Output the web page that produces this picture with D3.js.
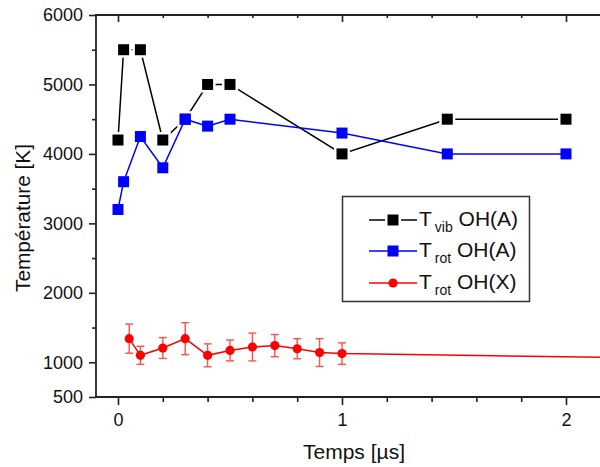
<!DOCTYPE html>
<html><head><meta charset="utf-8">
<script src="https://cdn.jsdelivr.net/npm/d3@7"></script>
<style>body{margin:0;background:#fff}svg{display:block}text{font-family:"Liberation Sans",Arial,sans-serif;fill:#111}</style>
</head><body>
<svg id="c" width="600" height="467"></svg>
<script>
// ---- data ----
const vibX   = [0, 0.025, 0.1, 0.2, 0.3, 0.4, 0.5, 1.0, 1.47, 2.0];
const vibY   = [4200, 5500, 5500, 4200, 4500, 5000, 5000, 4000, 4500, 4500];
const rotAX  = [0, 0.025, 0.1, 0.2, 0.3, 0.4, 0.5, 1.0, 1.47, 2.0];
const rotAY  = [3200, 3600, 4250, 3800, 4500, 4400, 4500, 4300, 4000, 4000];
const rotXX  = [0.05, 0.1, 0.2, 0.3, 0.4, 0.5, 0.6, 0.7, 0.8, 0.9, 1.0, 3.0];
const rotXY  = [1340, 1100, 1205, 1340, 1100, 1170, 1220, 1240, 1195, 1140, 1125, 1035];
const rotXE  = [210, 130, 150, 230, 165, 150, 200, 160, 145, 200, 155, 0];
const yMajor = [500, 1000, 2000, 3000, 4000, 5000, 6000];
const yMinor = [1500, 2500, 3500, 4500, 5500];
const xMajor = [0, 1, 2];
const xMinor = [0.2, 0.4, 0.6, 0.8, 1.2, 1.4, 1.6, 1.8, 2.2];
const legendLabels = [["T","vib"," OH(A)"],["T","rot"," OH(A)"],["T","rot"," OH(X)"]];

const svg = d3.select("#c");
const x = d3.scaleLinear().domain([-0.1, 2.3]).range([95.6, 633.2]);
const y = d3.scaleLinear().domain([500, 6000]).range([397, 15]);
const axisCol = "#222";

// axes
const gL = svg.append("g").attr("transform","translate(96,0)")
  .call(d3.axisLeft(y).tickValues(yMajor).tickSize(7).tickPadding(6).tickFormat(d3.format("d")));
const gLm = svg.append("g").attr("transform","translate(96,0)")
  .call(d3.axisLeft(y).tickValues(yMinor).tickSize(4).tickFormat(""));
const gB = svg.append("g").attr("transform","translate(0,397)")
  .call(d3.axisBottom(x).tickValues(xMajor).tickSize(8).tickPadding(8).tickFormat(d3.format("d")));
const gBm = svg.append("g").attr("transform","translate(0,397)")
  .call(d3.axisBottom(x).tickValues(xMinor).tickSize(5).tickFormat(""));
const gT = svg.append("g").attr("transform","translate(0,15)")
  .call(d3.axisTop(x).tickValues(xMajor).tickSize(-7).tickFormat(""));
const gTm = svg.append("g").attr("transform","translate(0,15)")
  .call(d3.axisTop(x).tickValues(xMinor).tickSize(-3).tickFormat(""));
[gL,gLm,gB,gBm,gT,gTm].forEach(g=>{
  g.select(".domain").remove();
  g.selectAll(".tick line").attr("stroke",axisCol).attr("stroke-width",1.6);
  g.selectAll(".tick text").attr("font-size",18).attr("fill","#111")
   .style("font-family","'Liberation Sans',Arial,sans-serif");
});
svg.append("line").attr("x1",96).attr("x2",96).attr("y1",y(6000)).attr("y2",y(500)+0.8).attr("stroke",axisCol).attr("stroke-width",1.8);
svg.append("line").attr("x1",95).attr("x2",600).attr("y1",397).attr("y2",397).attr("stroke",axisCol).attr("stroke-width",1.8);
svg.append("line").attr("x1",95).attr("x2",600).attr("y1",15).attr("y2",15).attr("stroke",axisCol).attr("stroke-width",1.8);

// axis titles
svg.append("text").attr("x",354).attr("y",459).attr("text-anchor","middle").attr("font-size",21)
  .text("Temps [µs]");
svg.append("text").attr("transform","translate(30,218) rotate(-90)").attr("text-anchor","middle").attr("font-size",20.8)
  .text("Température [K]");

const line = d3.line().x(d=>x(d[0])).y(d=>y(d[1]));
const SQ = 11;

// black series
const vib = vibX.map((v,i)=>[v,vibY[i]]);
svg.append("path").datum(vib).attr("d",line).attr("fill","none").attr("stroke","#000").attr("stroke-width",1.5);
svg.selectAll(".vh").data(vib).join("rect").attr("x",d=>x(d[0])-SQ/2-2.5).attr("y",d=>y(d[1])-SQ/2-2.5)
  .attr("width",SQ+5).attr("height",SQ+5).attr("fill","#fff");
svg.selectAll(".vs").data(vib).join("rect").attr("x",d=>x(d[0])-SQ/2).attr("y",d=>y(d[1])-SQ/2)
  .attr("width",SQ).attr("height",SQ).attr("fill","#000");

// blue series
const rA = rotAX.map((v,i)=>[v,rotAY[i]]);
svg.append("path").datum(rA).attr("d",line).attr("fill","none").attr("stroke","#0000ff").attr("stroke-width",1.5);
svg.selectAll(".bs").data(rA).join("rect").attr("x",d=>x(d[0])-SQ/2).attr("y",d=>y(d[1])-SQ/2)
  .attr("width",SQ).attr("height",SQ).attr("fill","#0000ff");

// red series
const rX = rotXX.map((v,i)=>[v,rotXY[i],rotXE[i]]);
svg.append("path").datum(rX).attr("d",line).attr("fill","none").attr("stroke","#ff0000").attr("stroke-width",1.5);
const eb = svg.append("g").attr("stroke","#ff5050").attr("stroke-width",1.4);
rX.filter(d=>d[2]>0).forEach(d=>{
  const cx = x(d[0]), t = y(d[1]+d[2]), b = y(d[1]-d[2]);
  eb.append("line").attr("x1",cx).attr("x2",cx).attr("y1",t).attr("y2",b);
  eb.append("line").attr("x1",cx-4).attr("x2",cx+4).attr("y1",t).attr("y2",t);
  eb.append("line").attr("x1",cx-4).attr("x2",cx+4).attr("y1",b).attr("y2",b);
});
svg.selectAll(".rc").data(rX).join("circle").attr("cx",d=>x(d[0])).attr("cy",d=>y(d[1])).attr("r",4.6).attr("fill","#ff0000");

// legend
svg.append("rect").attr("x",342.5).attr("y",196.5).attr("width",187).attr("height",105)
  .attr("fill","#fff").attr("stroke","#333").attr("stroke-width",1.5);
const rowsY = [220, 251, 283];
const cols = ["#000","#0000ff","#ff0000"];
rowsY.forEach((ry,i)=>{
  const g = svg.append("g");
  g.append("line").attr("x1",369).attr("x2",417).attr("y1",ry).attr("y2",ry).attr("stroke",cols[i]).attr("stroke-width",1.5);
  if(i===0){
    g.append("rect").attr("x",393-SQ/2-2.5).attr("y",ry-SQ/2-1).attr("width",SQ+5).attr("height",SQ+2).attr("fill","#fff");
  }
  if(i<2) g.append("rect").attr("x",393-SQ/2).attr("y",ry-SQ/2).attr("width",SQ).attr("height",SQ).attr("fill",cols[i]);
  else g.append("circle").attr("cx",393).attr("cy",ry).attr("r",4.6).attr("fill",cols[i]);
  const t = g.append("text").attr("x",419).attr("y",ry+6).attr("font-size",21);
  t.append("tspan").text(legendLabels[i][0]);
  t.append("tspan").attr("font-size",14).attr("dx",3).attr("dy",6).text(legendLabels[i][1]);
  t.append("tspan").attr("dy",-6).text(legendLabels[i][2]);
});
</script>
</body></html>
